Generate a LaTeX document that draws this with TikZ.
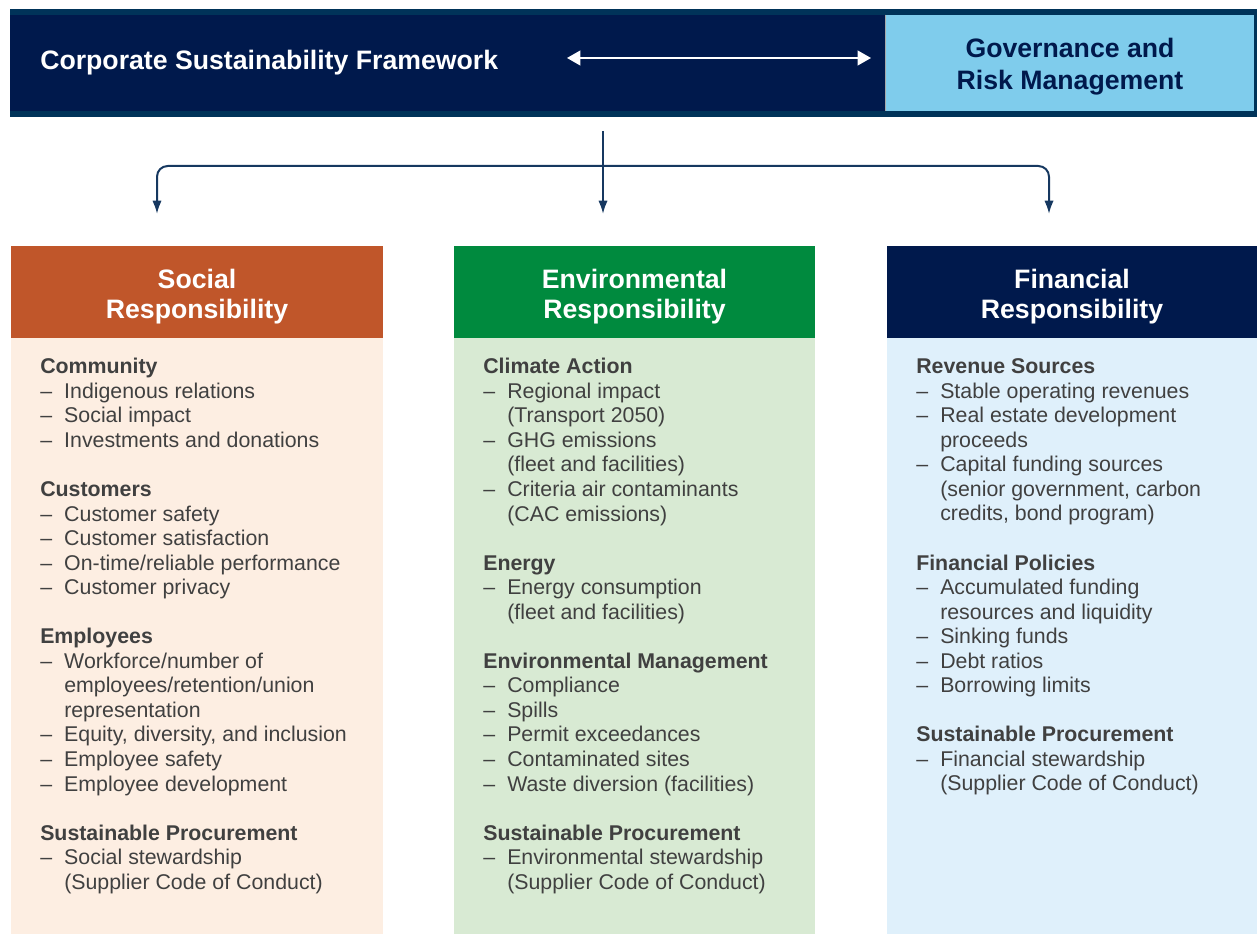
\documentclass[tikz,border=0pt]{standalone}
\usepackage{fontspec}
\setmainfont{Liberation Sans}
\usetikzlibrary{arrows.meta,positioning}
\definecolor{csfNavy}{RGB}{0,25,76}
\definecolor{csfRim}{RGB}{0,51,89}
\definecolor{csfSky}{RGB}{127,204,236}
\definecolor{csfRust}{RGB}{192,86,42}
\definecolor{csfPeach}{RGB}{253,238,226}
\definecolor{csfGreen}{RGB}{0,138,62}
\definecolor{csfSage}{RGB}{216,234,211}
\definecolor{csfIce}{RGB}{223,240,251}
\definecolor{csfInk}{RGB}{64,64,64}
\definecolor{csfLink}{RGB}{22,56,96}
% list helpers for the three columns
\newcommand{\grp}[1]{\textbf{#1}}
\newcommand{\itm}{\makebox[18pt][l]{–}}
\newcommand{\cnt}{\hspace*{18pt}}
\newcommand{\gap}{\\[18.41pt]}
\tikzset{
  csftitle/.style={font=\bfseries\fontsize{20}{22.5}\selectfont,
    text=white, inner sep=0pt},
  csfbox/.style={inner sep=0pt, minimum height=69pt},
  csfhead/.style={font=\bfseries\fontsize{20}{22.5}\selectfont,
    text=white, align=center, inner sep=0pt},
  csfbody/.style={font=\fontsize{16}{18.41}\selectfont, text=csfInk,
    align=left, inner sep=0pt, anchor=north west},
  csflink/.style={-{Latex[length=10pt,width=7pt]}, line width=1.5pt,
    draw=csfLink, rounded corners=8pt}
}
\begin{document}
\begin{tikzpicture}[x=0.75pt,y=-0.75pt]
\path[use as bounding box] (0,0) rectangle (1257,934);

% banner
\fill[csfRim] (10,9) rectangle (1257,117);
\fill[csfNavy] (10,15) rectangle (886,111);
\node[csftitle, anchor=west] (csf) at (40,63) {Corporate Sustainability Framework};
\node[csfbox, fill=csfSky, minimum width=276pt, minimum height=72pt] (gov) at (1070,63) {};
\node[csfhead, text=csfNavy, font=\bfseries\fontsize{20}{24}\selectfont]
  (govt) at ([yshift=-3pt]gov.center) {Governance and\\Risk Management};
\draw[black!35, line width=1pt] (gov.north west) -- (gov.south west);
\coordinate (swl) at (567,58);
\coordinate (swr) at (871,58);
\draw[{Triangle[length=10pt,width=11pt]}-{Triangle[length=10pt,width=11pt]},
  white, line width=1.5pt] (swl) -- (swr);

% column headers
\node[csfbox, fill=csfRust, minimum width=279pt] (soc) at (197,292) {};
\node[csfbox, fill=csfGreen, minimum width=270.75pt] (env) at (634.5,292) {};
\node[csfbox, fill=csfNavy, minimum width=277.5pt] (fin) at (1072,292) {};
\node[csfhead] (soct) at ([yshift=-3.5pt]soc.center) {Social\\Responsibility};
\node[csfhead] (envt) at ([yshift=-3.5pt]env.center) {Environmental\\Responsibility};
\node[csfhead] (fint) at ([yshift=-3.5pt]fin.center) {Financial\\Responsibility};

% fork from banner to columns
\coordinate (stem) at (603,131);
\coordinate (fork) at (603,166);
\coordinate (socin) at (157,214);
\coordinate (envin) at (603,214);
\coordinate (finin) at (1049,214);
\draw[csflink] (stem) -- (envin);
\draw[csflink] (fork) -| (socin);
\draw[csflink] (fork) -| (finin);

% column bodies
\fill[csfPeach] (soc.south west) rectangle (383,934);
\fill[csfSage] (env.south west) rectangle (815,934);
\fill[csfIce] (fin.south west) rectangle (1257,934);

\node[csfbody] (socl) at (40,358) {%
\grp{Community}\\
\itm Indigenous relations\\
\itm Social impact\\
\itm Investments and donations\gap
\grp{Customers}\\
\itm Customer safety\\
\itm Customer satisfaction\\
\itm On-time/reliable performance\\
\itm Customer privacy\gap
\grp{Employees}\\
\itm Workforce/number of\\
\cnt employees/retention/union\\
\cnt representation\\
\itm Equity, diversity, and inclusion\\
\itm Employee safety\\
\itm Employee development\gap
\grp{Sustainable Procurement}\\
\itm Social stewardship\\
\cnt (Supplier Code of Conduct)};

\node[csfbody] (envl) at (483,358) {%
\grp{Climate Action}\\
\itm Regional impact\\
\cnt (Transport 2050)\\
\itm GHG emissions\\
\cnt (fleet and facilities)\\
\itm Criteria air contaminants\\
\cnt (CAC emissions)\gap
\grp{Energy}\\
\itm Energy consumption\\
\cnt (fleet and facilities)\gap
\grp{Environmental Management}\\
\itm Compliance\\
\itm Spills\\
\itm Permit exceedances\\
\itm Contaminated sites\\
\itm Waste diversion (facilities)\gap
\grp{Sustainable Procurement}\\
\itm Environmental stewardship\\
\cnt (Supplier Code of Conduct)};

\node[csfbody] (finl) at (916,358.5) {%
\grp{Revenue Sources}\\
\itm Stable operating revenues\\
\itm Real estate development\\
\cnt proceeds\\
\itm Capital funding sources\\
\cnt (senior government, carbon\\
\cnt credits, bond program)\gap
\grp{Financial Policies}\\
\itm Accumulated funding\\
\cnt resources and liquidity\\
\itm Sinking funds\\
\itm Debt ratios\\
\itm Borrowing limits\gap
\grp{Sustainable Procurement}\\
\itm Financial stewardship\\
\cnt (Supplier Code of Conduct)};
\end{tikzpicture}
\end{document}
